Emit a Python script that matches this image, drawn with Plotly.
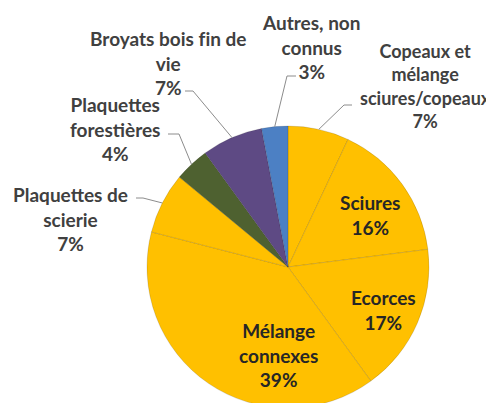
import math
import plotly.graph_objects as go

# ---- data ----
categories = ["Copeaux et mélange sciures/copeaux", "Sciures", "Ecorces", "Mélange connexes",
              "Plaquettes de scierie", "Plaquettes forestières", "Broyats bois fin de vie",
              "Autres, non connus"]
values = [7, 16, 17, 39, 7, 4, 7, 3]
label_lines = ["Copeaux et<br>mélange<br>sciures/copeaux", "Sciures", "Ecorces", "Mélange<br>connexes",
               "Plaquettes de<br>scierie", "Plaquettes<br>forestières", "Broyats bois f\u200cin de<br>vie",
               "Autres, non<br>connus"]

# ---- styles / layout ----
colors = ["#FFC000", "#FFC000", "#FFC000", "#FFC000", "#FFC000", "#4E6130", "#5E4A84", "#4C80C4"]
OFF = 8                      # page body margin
W, H = 494 - OFF, 403
CX, CY, R = 288, 267, 141    # target pie geometry in window pixels
FONT = "Lato"

# label centre in window pixels, and for outside labels the leader start + elbow
label_pos = [(425, 86), (370, 215), (383, 310), (278, 355), (70, 219), (115, 129), (168, 63), (311, 47)]
label_size = [18, 19, 19, 19, 19, 19, 19, 19]
inside = [False, True, True, True, False, False, False, False]
leaders = {0: ((352, 105), (344, 105)), 4: ((136, 198), (143, 198)), 5: ((168, 134), (179, 134)),
           6: ((185, 91), (193, 91)), 7: ((296, 76), (287, 76))}


def px(x):
    return (x - OFF) / W


def py(y):
    return 1 - (y - OFF) / H


fig = go.Figure(go.Pie(
    labels=categories, values=values, sort=False, direction="clockwise", rotation=0,
    marker=dict(colors=colors, line=dict(color="rgba(0,0,0,0.13)", width=1)),
    textinfo="none", hoverinfo="label+percent", showlegend=False,
    domain=dict(x=[px(CX - R), px(CX + R)], y=[py(CY + R), py(CY - R)]),
))

total = sum(values)
cum = 0
annotations, shapes = [], []
for i, v in enumerate(values):
    frac = (cum + v / 2) / total
    cum += v
    th = 2 * math.pi * frac
    ex, ey = CX + R * math.sin(th), CY - R * math.cos(th)
    lx, ly = label_pos[i]
    annotations.append(dict(
        x=px(lx), y=py(ly), xref="paper", yref="paper", showarrow=False,
        text=f"{label_lines[i]}<br>{round(100 * v / total)}%",
        font=dict(family=FONT, size=label_size[i], color="#262626" if inside[i] else "#404040",
                  weight="bold"),
        xanchor="center", yanchor="middle", align="center"))
    if i in leaders:
        (sx, sy), (bx, by) = leaders[i]
        path = f"M {px(sx)},{py(sy)} L {px(bx)},{py(by)} L {px(ex)},{py(ey)}"
        shapes.append(dict(type="path", path=path, xref="paper", yref="paper",
                           line=dict(color="#8C8C8C", width=1)))

fig.update_layout(width=W, height=H, margin=dict(l=0, r=0, t=0, b=0),
                  paper_bgcolor="white", plot_bgcolor="white",
                  annotations=annotations, shapes=shapes)
fig.write_html("out.html")
